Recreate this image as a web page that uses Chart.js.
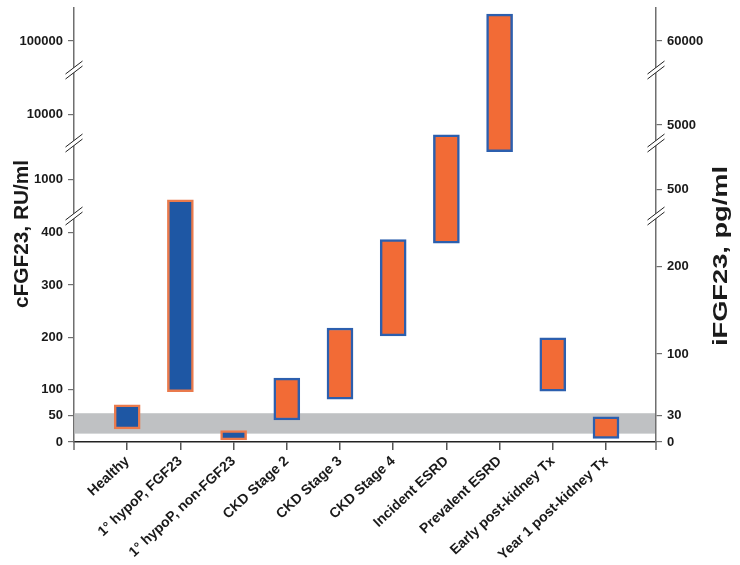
<!DOCTYPE html>
<html><head><meta charset="utf-8">
<script src="https://cdn.jsdelivr.net/npm/chart.js@4.4.0/dist/chart.umd.min.js"></script>
<style>html,body{margin:0;padding:0;background:#fff}#wrap{width:740px;height:565px;position:relative}</style>
</head><body><div id="wrap"><canvas id="c"></canvas></div>
<script>
// ---- data ----
const categories = ['Healthy', '1° hypoP, FGF23', '1° hypoP, non-FGF23', 'CKD Stage 2', 'CKD Stage 3',
  'CKD Stage 4', 'Incident ESRD', 'Prevalent ESRD', 'Early post-kidney Tx', 'Year 1 post-kidney Tx'];
const rangeLow  = [25, 96, 4, 42, 82, 203, 380, 1700, 97, 7];
const rangeHigh = [71, 680, 22, 122, 218, 387, 6100, 190000, 199, 48];
const kidneyDisease = [false, false, false, true, true, true, true, true, true, true];
const normalRange = [16, 55];
const leftTicks = [0, 50, 100, 200, 300, 400, 1000, 10000, 100000];
const rightTicks = [0, 30, 100, 200, 500, 5000, 60000];

// ---- broken axis definition (value ranges per segment, top = fraction of axis height) ----
const AXIS_SEGMENTS = {
  y: [
    {from: 0, to: 432, top: 0.5207, log: false},
    {from: 500, to: 2000, top: 0.6889, log: true},
    {from: 5000, to: 30000, top: 0.8571, log: true},
    {from: 50000, to: 220000, top: 1, log: true}
  ],
  y2: [
    {from: 0, to: 257, top: 0.5207, log: false},
    {from: 300, to: 1200, top: 0.6889, log: true},
    {from: 3000, to: 24000, top: 0.8571, log: true},
    {from: 30000, to: 132000, top: 1, log: true}
  ]
};
const TICK_VALUES = {y: leftTicks, y2: rightTicks};

class BrokenScale extends Chart.LinearScale {
  determineDataLimits() {
    const s = AXIS_SEGMENTS[this.id];
    this.min = s[0].from; this.max = s[s.length - 1].to;
  }
  buildTicks() { return TICK_VALUES[this.id].map(v => ({value: v})); }
  _frac(v) {
    const segs = AXIS_SEGMENTS[this.id];
    for (let i = 0; i < segs.length; i++) {
      const s = segs[i], b = i ? segs[i - 1].top : 0;
      if (i === segs.length - 1 || v < segs[i + 1].from) {
        let t = s.log ? (Math.log(Math.max(v, s.from)) - Math.log(s.from)) / (Math.log(s.to) - Math.log(s.from))
                      : (v - s.from) / (s.to - s.from);
        if (i < segs.length - 1) t = Math.min(t, 1);
        return b + t * (s.top - b);
      }
    }
    return 0;
  }
  getPixelForValue(v) { return this.bottom - this._frac(v) * (this.bottom - this.top); }
  getValueForPixel(p) {
    const f = (this.bottom - p) / (this.bottom - this.top);
    const segs = AXIS_SEGMENTS[this.id];
    for (let i = 0; i < segs.length; i++) {
      const s = segs[i], b = i ? segs[i - 1].top : 0;
      if (f <= s.top || i === segs.length - 1) {
        const t = (f - b) / (s.top - b);
        return s.log ? Math.exp(Math.log(s.from) + t * (Math.log(s.to) - Math.log(s.from))) : s.from + t * (s.to - s.from);
      }
    }
  }
}
BrokenScale.id = 'broken';
BrokenScale.defaults = {};
Chart.register(BrokenScale);

const FONT = "'Liberation Sans', Arial, Helvetica, sans-serif";
const BLUE = '#1e57a4', ORANGE = '#f26b36', BLUE_EDGE = '#2c5fae', ORANGE_EDGE = '#ea7a4c';

function seriesFor(flag) {
  return categories.map((c, i) => kidneyDisease[i] === flag ? {x: i + 1, y: [rangeLow[i], rangeHigh[i]]} : null).filter(Boolean);
}

function drawTitle(ctx, text, x, y, length) {
  ctx.save();
  ctx.translate(x, y); ctx.rotate(-Math.PI / 2);
  const w = ctx.measureText(text).width;
  ctx.scale(length / w, 1);
  ctx.fillText(text, 0, 0);
  ctx.restore();
}

const decor = {
  id: 'decor',
  beforeDatasetsDraw(chart) {
    const {ctx, chartArea: a, scales} = chart;
    const y = scales.y;
    ctx.save();
    ctx.fillStyle = '#bfc1c3';
    const t = y.getPixelForValue(normalRange[1]), b = y.getPixelForValue(normalRange[0]);
    ctx.fillRect(a.left + 1, t, a.right - a.left - 2, b - t);
    ctx.restore();
  },
  afterDraw(chart) {
    const {ctx, chartArea: a, scales} = chart;
    ctx.save();
    ctx.strokeStyle = '#6f6f6f'; ctx.lineWidth = 1.5;
    [a.left, a.right].forEach(x => { ctx.beginPath(); ctx.moveTo(x, a.bottom); ctx.lineTo(x, a.bottom + 8); ctx.stroke(); });
    ['y', 'y2'].forEach(id => {
      const sc = scales[id];
      const x = id === 'y' ? a.left : a.right;
      const segs = AXIS_SEGMENTS[id];
      for (let i = 0; i < segs.length - 1; i++) {
        const cy = sc.bottom - segs[i].top * (sc.bottom - sc.top);
        const dx = 8.5, dy = 6.5, o = 2.5;
        ctx.fillStyle = '#fff';
        ctx.beginPath();
        ctx.moveTo(x - dx, cy + dy - o); ctx.lineTo(x + dx, cy - dy - o);
        ctx.lineTo(x + dx, cy - dy + o); ctx.lineTo(x - dx, cy + dy + o); ctx.closePath(); ctx.fill();
        ctx.strokeStyle = '#222'; ctx.lineWidth = 1;
        [-o, o].forEach(off => { ctx.beginPath(); ctx.moveTo(x - dx, cy + dy + off); ctx.lineTo(x + dx, cy - dy + off); ctx.stroke(); });
      }
    });
    ctx.fillStyle = '#1a1a1a';
    ctx.font = 'bold 20px ' + FONT;
    ctx.textAlign = 'center'; ctx.textBaseline = 'middle';
    drawTitle(ctx, 'cFGF23, RU/ml', 22, 234, 148);
    drawTitle(ctx, 'iFGF23, pg/ml', 721, 256, 180);
    ctx.restore();
  }
};

const tickFont = {family: FONT, size: 13, weight: 'bold'};
const xFont = {family: FONT, size: 14, weight: 'bold'};
new Chart(document.getElementById('c'), {
  type: 'bar',
  data: {
    datasets: [
      {data: seriesFor(false), backgroundColor: BLUE, borderColor: ORANGE_EDGE, borderWidth: 2.5, borderSkipped: false, yAxisID: 'y'},
      {data: seriesFor(true), backgroundColor: ORANGE, borderColor: BLUE_EDGE, borderWidth: 2.5, borderSkipped: false, yAxisID: 'y'}
    ]
  },
  options: {
    responsive: true, maintainAspectRatio: false, animation: false,
    layout: {padding: {top: 8, left: 0, right: 0, bottom: 0}},
    datasets: {bar: {grouped: false, barThickness: 26}},
    plugins: {legend: {display: false}, tooltip: {enabled: false}},
    scales: {
      x: {
        type: 'linear', min: 0, max: 10.94, offset: false,
        afterBuildTicks: s => { s.ticks = categories.map((c, i) => ({value: i + 1})); },
        afterFit: s => { s.height = 123; s.paddingLeft = 0; s.paddingRight = 0; },
        ticks: {autoSkip: false, maxRotation: 43, minRotation: 43, padding: 3, color: '#1a1a1a', font: xFont,
          callback: v => categories[v - 1]},
        grid: {offset: false, drawOnChartArea: false, drawTicks: true, tickLength: 8, color: '#555', lineWidth: 1.5},
        border: {color: '#222', width: 1.5}
      },
      y: {
        type: 'broken', position: 'left',
        afterFit: s => { s.width = 74; s.paddingTop = 0; s.paddingBottom = 0; },
        ticks: {autoSkip: false, padding: 5, color: '#1a1a1a', font: tickFont, callback: v => String(v)},
        grid: {drawOnChartArea: false, drawTicks: true, tickLength: 6, color: '#6f6f6f', lineWidth: 1.2},
        border: {color: '#6f6f6f', width: 1.5}
      },
      y2: {
        type: 'broken', position: 'right',
        afterFit: s => { s.width = 84; s.paddingTop = 0; s.paddingBottom = 0; },
        ticks: {autoSkip: false, padding: 5, color: '#1a1a1a', font: tickFont, callback: v => String(v)},
        grid: {drawOnChartArea: false, drawTicks: true, tickLength: 6, color: '#6f6f6f', lineWidth: 1.2},
        border: {color: '#6f6f6f', width: 1.5}
      }
    }
  },
  plugins: [decor]
});
</script></body></html>
